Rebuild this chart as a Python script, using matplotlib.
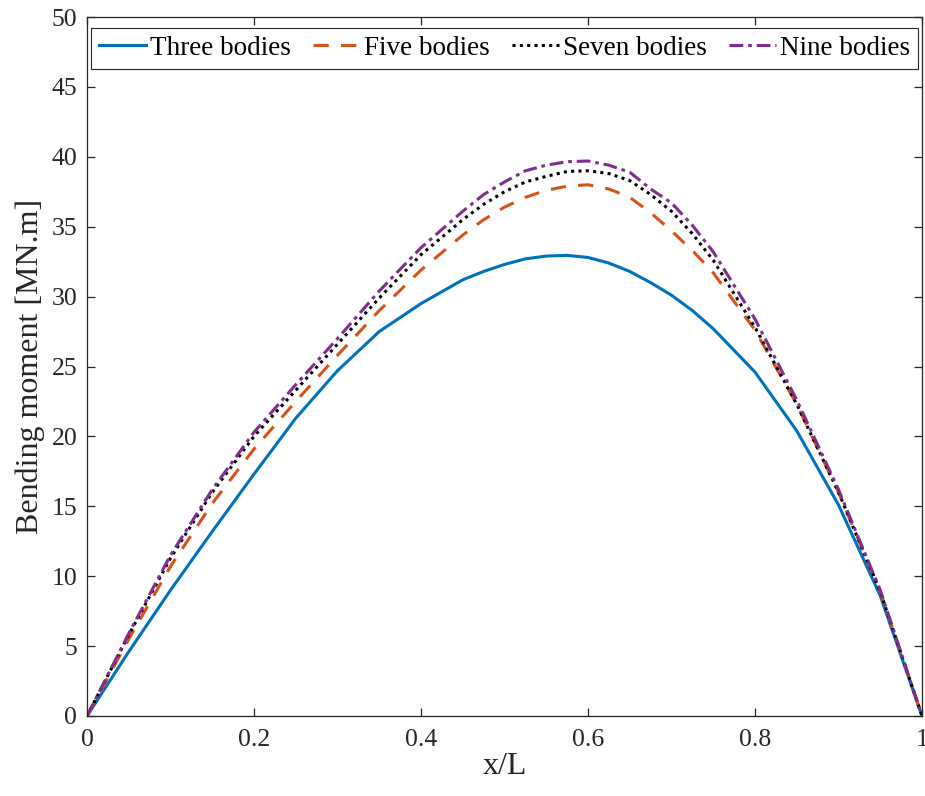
import matplotlib
matplotlib.use("Agg")
import matplotlib.pyplot as plt

plt.rcParams['font.family'] = ['Liberation Serif', 'DejaVu Serif']

# x/L positions and bending moment [MN.m]
x_over_L = [0.0, 0.05, 0.1, 0.15, 0.2, 0.25, 0.3, 0.35, 0.4, 0.45, 0.475, 0.5,
            0.525, 0.55, 0.575, 0.6, 0.625, 0.65, 0.675, 0.7, 0.725, 0.75,
            0.8, 0.85, 0.9, 0.95, 1.0]
three_bodies = [0, 4.6, 9.0, 13.2, 17.3, 21.3, 24.7, 27.5, 29.5, 31.2, 31.8, 32.3,
                32.7, 32.9, 32.95, 32.8, 32.4, 31.8, 31.0, 30.1, 29.0, 27.7,
                24.6, 20.4, 15.1, 8.6, 0]
five_bodies = [0, 5.5, 10.7, 15.2, 19.1, 22.5, 25.8, 29.0, 31.9, 34.4, 35.5, 36.4,
               37.1, 37.6, 37.9, 38.0, 37.7, 37.1, 36.0, 34.7, 33.3, 31.7,
               27.6, 22.3, 16.0, 8.9, 0]
seven_bodies = [0, 5.8, 11.3, 16.0, 20.0, 23.3, 26.6, 29.9, 33.0, 35.5, 36.6, 37.5,
                38.2, 38.6, 38.95, 39.0, 38.8, 38.3, 37.3, 36.1, 34.5, 32.6,
                27.8, 22.3, 16.0, 8.9, 0]
nine_bodies = [0, 5.9, 11.5, 16.2, 20.3, 23.7, 27.0, 30.4, 33.5, 36.1, 37.3, 38.2,
               39.0, 39.4, 39.65, 39.7, 39.4, 38.9, 37.7, 36.7, 35.1, 33.2,
               28.4, 22.6, 16.2, 9.0, 0]

labels = ['Three bodies', 'Five bodies', 'Seven bodies', 'Nine bodies']
colors = ['#0072BD', '#D95319', '#000000', '#7E2F8E']
dash_styles = [None, (5, 4), (1.0, 1.4), (4.5, 1.6, 1.2, 1.6)]
x_ticks = [0, 0.2, 0.4, 0.6, 0.8, 1.0]
x_tick_labels = ['0', '0.2', '0.4', '0.6', '0.8', '1']
y_ticks = list(range(0, 51, 5))

fig = plt.figure(figsize=(9.25, 7.96), dpi=100)
ax = fig.add_axes([87 / 925, 1 - 716 / 796, (922 - 87) / 925, (716 - 17) / 796])

series = [three_bodies, five_bodies, seven_bodies, nine_bodies]
for vals, lab, col, ds in zip(series, labels, colors, dash_styles):
    line, = ax.plot(x_over_L, vals, color=col, lw=2.2, label=lab)
    if ds is not None:
        line.set_dashes(ds)

ax.set_xlim(0, 1)
ax.set_ylim(0, 50)
ax.set_xticks(x_ticks)
ax.set_xticklabels(x_tick_labels)
ax.set_yticks(y_ticks)

axis_col = '#262626'
for sp in ax.spines.values():
    sp.set_color(axis_col)
    sp.set_linewidth(0.9)
ax.tick_params(direction='in', length=6, width=0.9, colors=axis_col,
               labelsize=18.5, top=True, right=True, labelcolor=axis_col)
ax.tick_params(axis='x', pad=9)
ax.tick_params(axis='y', pad=7)

ax.set_xlabel('x/L', fontsize=23, color=axis_col, labelpad=1)
ax.set_ylabel('Bending moment [MN.m]', fontsize=23, color=axis_col, labelpad=5)

leg = ax.legend(loc='upper center', ncol=4, fontsize=19.5, frameon=True,
                fancybox=False, framealpha=1, edgecolor=axis_col,
                handlelength=1.75, handletextpad=0.15, columnspacing=0.8,
                borderpad=0.3, borderaxespad=0.4)
leg.get_frame().set_linewidth(0.8)

fig.savefig('out.png', dpi=100)
